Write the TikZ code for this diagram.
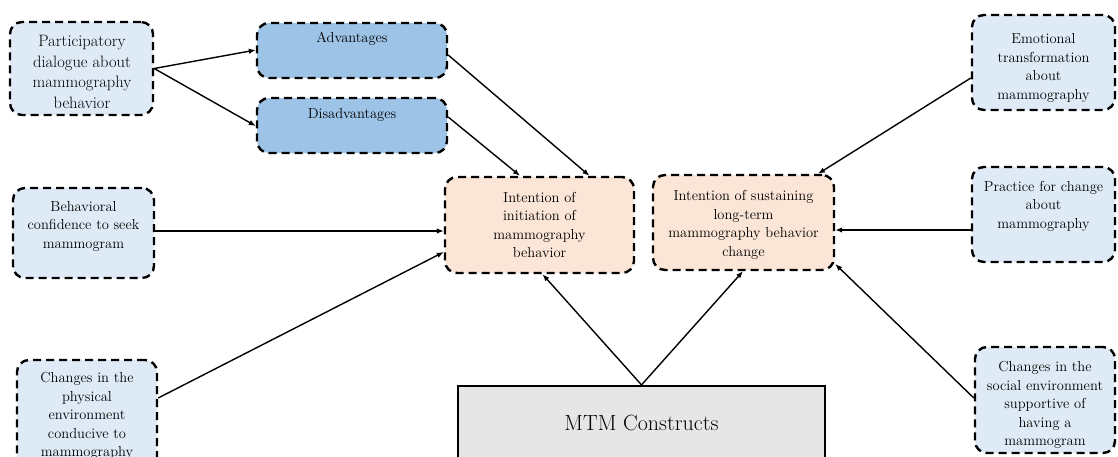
\documentclass[tikz,border=0pt]{standalone}
\usetikzlibrary{arrows.meta,calc}
\definecolor{lblue}{HTML}{DEEBF7}
\definecolor{dblue}{HTML}{9DC3E6}
\definecolor{peach}{HTML}{FBE5D6}
\definecolor{lgray}{HTML}{E7E6E6}
\tikzset{
  box/.style={draw=black, line width=2.4pt, dash pattern=on 8pt off 5pt,
    rounded corners=12pt, inner sep=0pt, shape=rectangle},
  bluebox/.style={box, fill=lblue},
  darkbox/.style={box, fill=dblue},
  peachbox/.style={box, fill=peach},
  txt/.style={align=center, inner sep=0pt, font=\fontsize{14.5}{18.5}\selectfont},
  bigtxt/.style={align=center, inner sep=0pt, font=\fontsize{16.5}{20.5}\selectfont},
  conn/.style={line width=1.4pt, -{Latex[length=7pt,width=5.5pt]}},
}
\begin{document}
\begin{tikzpicture}[x=1pt,y=-1pt]
\useasboundingbox (0,0) rectangle (1118,456);
\clip (0,0) rectangle (1118,456);
% boxes
\node[bluebox, minimum width=143pt, minimum height=93pt] (part) at (81.5,68.5) {};
\node[darkbox, minimum width=190pt, minimum height=55pt] (adv) at (352,50.5) {};
\node[darkbox, minimum width=190pt, minimum height=55pt] (dis) at (352,125.5) {};
\node[bluebox, minimum width=141pt, minimum height=90pt] (beh) at (83.5,233) {};
\node[bluebox, minimum width=140pt, minimum height=112pt] (phys) at (87,416) {};
\node[peachbox, minimum width=189pt, minimum height=96pt] (init) at (539.5,225) {};
\node[peachbox, minimum width=181pt, minimum height=95pt] (sust) at (743.5,222.5) {};
\node[draw=black, line width=2.2pt, fill=lgray, minimum width=367pt, minimum height=90pt, inner sep=0pt] (mtm) at (641.5,431) {};
\node[bluebox, minimum width=143pt, minimum height=95pt] (emo) at (1043.5,62.5) {};
\node[bluebox, minimum width=143pt, minimum height=95pt] (prac) at (1043.5,214.5) {};
\node[bluebox, minimum width=140pt, minimum height=106pt] (soc) at (1045,400) {};
% texts
\node[bigtxt] (partT) at (82,72) {Participatory\\dialogue about\\mammography\\behavior};
\node[txt] (advT) at (352,39) {Advantages};
\node[txt] (disT) at (352,115) {Disadvantages};
\node[txt] (behT) at (83.5,226) {Behavioral\\confidence to seek\\mammogram};
\node[txt] (physT) at (87,416) {Changes in the\\physical\\environment\\conducive to\\mammography};
\node[txt] (initT) at (539.5,225) {Intention of\\initiation of\\mammography\\behavior};
\node[txt] (sustT) at (743.5,225) {Intention of sustaining\\long-term\\mammography behavior\\change};
\node[align=center, inner sep=0pt, font=\fontsize{22}{26}\selectfont] (mtmT) at (641.5,423) {MTM Constructs};
\node[txt] (emoT) at (1043.5,68) {Emotional\\transformation\\about\\mammography};
\node[txt] (pracT) at (1043.5,206) {Practice for change\\about\\mammography};
\node[txt] (socT) at (1045,405) {Changes in the\\social environment\\supportive of\\having a\\mammogram};
% connectors
\draw[conn] (part.east) -- ([yshift=0.5pt]adv.west);
\draw[conn] (part.east) -- ([yshift=-0.5pt]dis.west);
\draw[conn] ([yshift=-4.5pt]adv.east) -- ([xshift=50pt]init.north);
\draw[conn] ([yshift=8.5pt]dis.east) -- ([xshift=-19.5pt]init.north);
\draw[conn] (beh.east |- 0,231) -- (init.west |- 0,231);
\draw[conn] (phys.east |- 0,398) -- (init.west |- 0,252);
\draw[conn] (mtm.north) -- ([xshift=3pt]init.south);
\draw[conn] (mtm.north) -- ([xshift=-0.5pt]sust.south);
\draw[conn] ([yshift=-15.5pt]emo.west) -- ([xshift=74.5pt]sust.north);
\draw[conn] (prac.west |- 0,230) -- (sust.east |- 0,230);
\draw[conn] (soc.west |- 0,398) -- (sust.east |- 0,264);
\end{tikzpicture}
\end{document}
